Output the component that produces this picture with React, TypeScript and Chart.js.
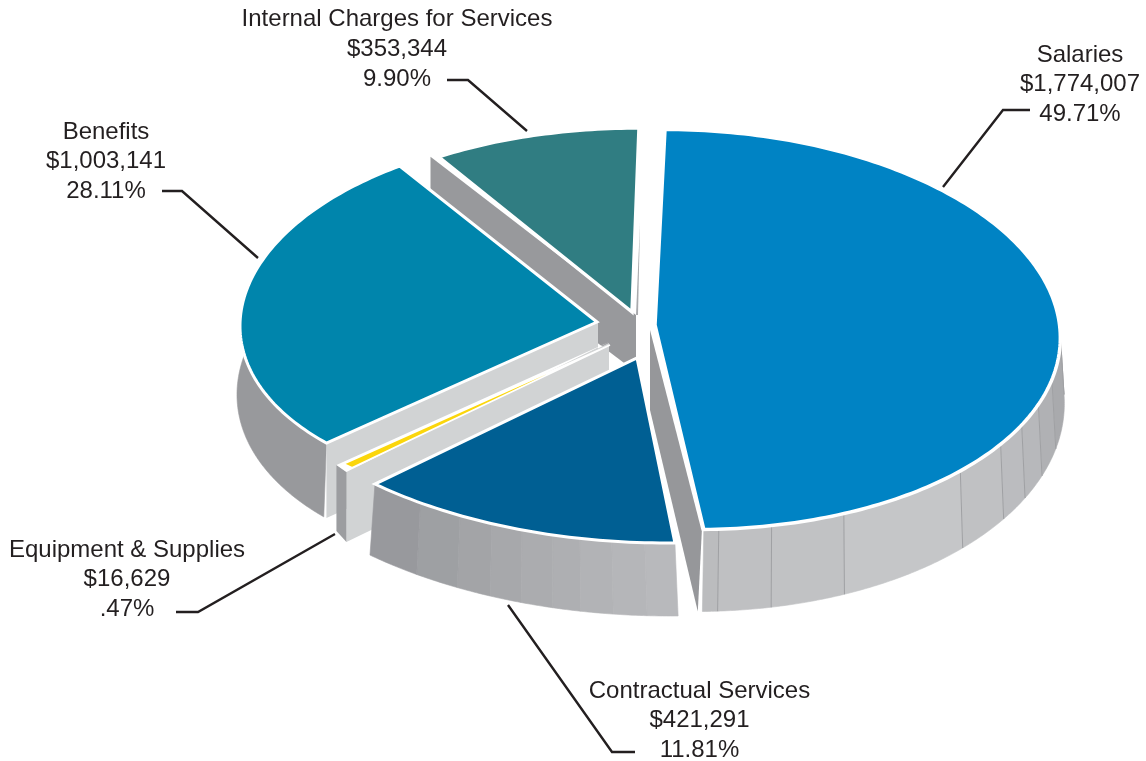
import React, { useEffect, useRef } from "react";
import { Chart, registerables } from "chart.js";

Chart.register(...registerables);

// Budget figures, clockwise from twelve o'clock.
const categories = [
  "Salaries",
  "Contractual Services",
  "Equipment & Supplies",
  "Benefits",
  "Internal Charges for Services",
];
const amounts = [1774007, 421291, 16629, 1003141, 353344];
const percentages = [49.71, 11.81, 0.47, 28.11, 9.9];

const topColors = ["#0083c4", "#005f93", "#fbd60c", "#0085ac", "#307d82"];

const WIDTH = 1146;
const HEIGHT = 761;
const DEG = Math.PI / 180;

type Anchor = "hub" | "start" | "end";
type Face = { color: string; pts: [Anchor, number, number][] };
type Band = { to: number; color: string };

type SliceStyle = {
  hub: [number, number];
  center: [number, number];
  rx: number;
  ry: number;
  shear: number;
  border: number;
  rimFrom?: number;
  rimTo?: number;
  bands?: Band[];
  hairlines?: boolean;
  depth?: [number, number];
  wallDx?: [number, number];
  faces?: Face[];
};

// Each wedge sits on its own tilted ellipse so the exploded disc reads as 3D.
const sliceStyles: SliceStyle[] = [
  {
    hub: [655, 325],
    center: [681, 329.5],
    rx: 379,
    ry: 200,
    shear: 0.08,
    border: 3.5,
    rimFrom: 78,
    bands: [
      { to: 90, color: "#a0a1a4" },
      { to: 104.5, color: "#a9aaad" },
      { to: 112, color: "#b0b1b4" },
      { to: 118.5, color: "#b7b8bb" },
      { to: 125, color: "#bbbcbf" },
      { to: 135, color: "#c0c1c3" },
      { to: 157, color: "#c5c6c8" },
      { to: 168.6, color: "#c1c2c4" },
      { to: 176.7, color: "#bfc0c2" },
      { to: 181, color: "#bbbcbe" },
    ],
    hairlines: true,
    depth: [65, 17],
    wallDx: [-1.5, 5.5],
    faces: [
      {
        color: "#96979a",
        pts: [
          ["end", -2, 2],
          ["hub", -5, 5],
          ["hub", -5, 85],
          ["end", -6, 82],
        ],
      },
    ],
  },
  {
    hub: [637, 358],
    center: [667, 308],
    rx: 441,
    ry: 235,
    shear: 0,
    border: 3,
    bands: [
      { to: 182.9, color: "#b8b9bc" },
      { to: 187.2, color: "#b5b6b9" },
      { to: 191.4, color: "#b2b3b6" },
      { to: 195, color: "#aeafb2" },
      { to: 199.2, color: "#abacaf" },
      { to: 203.4, color: "#a7a8ab" },
      { to: 208, color: "#a3a4a7" },
      { to: 214, color: "#9ea0a3" },
      { to: 224, color: "#98999d" },
    ],
    depth: [65, 8],
    wallDx: [3, 12],
  },
  {
    hub: [610, 345],
    center: [617, 318],
    rx: 400,
    ry: 200,
    shear: 0,
    border: 1.8,
    faces: [
      {
        color: "#d1d3d4",
        pts: [
          ["end", 3, 8],
          ["hub", -1, -2],
          ["hub", -1, 70],
          ["end", 3, 78],
        ],
      },
      {
        color: "#9c9da0",
        pts: [
          ["end", -7, 1],
          ["end", 3, 8],
          ["end", 3, 78],
          ["end", -7, 67],
        ],
      },
      {
        color: "#ffffff",
        pts: [
          ["end", -7, 1],
          ["hub", -1, -3],
          ["end", 3, 8],
        ],
      },
    ],
  },
  {
    hub: [597, 322],
    center: [571, 312],
    rx: 330,
    ry: 179.6,
    shear: -0.144,
    border: 3,
    rimFrom: 223,
    rimTo: 282,
    bands: [{ to: 282, color: "#98999c" }],
    depth: [68, 8],
    wallDx: [-2, 1],
    faces: [
      {
        color: "#d1d3d4",
        pts: [
          ["start", 0, 1],
          ["hub", 1, 0],
          ["hub", 1, 74],
          ["start", 0, 75],
        ],
      },
    ],
  },
  {
    hub: [632, 312],
    center: [639, 282],
    rx: 344,
    ry: 154,
    shear: 0,
    border: 3.5,
    faces: [
      {
        color: "#98999c",
        pts: [
          ["start", -8, 0],
          ["hub", 4, 3],
          ["hub", 4, 60],
          ["start", -8, 60],
        ],
      },
      {
        color: "#a9aaad",
        pts: [
          ["end", 1, 95],
          ["hub", 4, 3],
          ["hub", 6, 3],
        ],
      },
    ],
  },
];

// Painter's order: farthest wedge first.
const paintOrder = [4, 0, 3, 2, 1];

const labelCenters: [number, number][] = [
  [1080, 55],
  [699.5, 691],
  [127, 550],
  [106, 132],
  [397, 19.5],
];
const LINE_STEP = 29.8;

const leaders: [number, number][][] = [
  [[1030, 110], [1003, 110], [943, 187]],
  [[635, 752], [612, 752], [508, 605]],
  [[176, 612], [198, 612], [335, 534]],
  [[162, 191], [182, 191], [258, 258]],
  [[447, 80], [468, 80], [527, 131]],
];

const rimPoint = (s: SliceStyle, a: number): [number, number] => {
  const yy = s.ry * Math.sin(a);
  return [s.center[0] + s.rx * Math.cos(a) + s.shear * yy, s.center[1] + yy];
};

const wallPoint = (s: SliceStyle, a: number): [number, number] => {
  const [x, y] = rimPoint(s, a);
  const [d0, d1] = s.depth ?? [70, 0];
  const [dx0, dx1] = s.wallDx ?? [0, 0];
  return [x + dx0 + dx1 * Math.cos(a), y + d0 + d1 * Math.sin(a)];
};

const tracePoly = (ctx: CanvasRenderingContext2D, pts: [number, number][]) => {
  ctx.beginPath();
  pts.forEach(([x, y], i) => (i ? ctx.lineTo(x, y) : ctx.moveTo(x, y)));
  ctx.closePath();
};

const moneyText = (v: number) => "$" + v.toLocaleString("en-US");
const percentText = (v: number) => v.toFixed(2).replace(/^0/, "") + "%";

const drawRimWall = (
  ctx: CanvasRenderingContext2D,
  s: SliceStyle,
  startA: number,
  endA: number
) => {
  if (!s.bands) return;
  const toAngle = (deg: number) => deg * DEG - Math.PI / 2;
  let from = Math.max(startA, s.rimFrom !== undefined ? toAngle(s.rimFrom) : startA);
  const last = s.rimTo !== undefined ? Math.min(endA, toAngle(s.rimTo)) : endA;
  const seams: number[] = [];
  for (const band of s.bands) {
    const to = Math.min(toAngle(band.to), last);
    if (to <= from) continue;
    const top: [number, number][] = [];
    const bottom: [number, number][] = [];
    const steps = Math.max(2, Math.ceil(((to - from) / DEG) * 2));
    for (let k = 0; k <= steps; k++) {
      const a = from + ((to - from) * k) / steps;
      top.push(rimPoint(s, a));
      bottom.unshift(wallPoint(s, a));
    }
    tracePoly(ctx, [...top, ...bottom]);
    ctx.fillStyle = band.color;
    ctx.strokeStyle = band.color;
    ctx.lineWidth = 0.6;
    ctx.fill();
    ctx.stroke();
    if (to < last) seams.push(to);
    from = to;
  }
  if (s.hairlines) {
    ctx.strokeStyle = "#9fa0a3";
    ctx.lineWidth = 1;
    for (const a of seams) {
      const p = rimPoint(s, a);
      const q = wallPoint(s, a);
      ctx.beginPath();
      ctx.moveTo(p[0], p[1]);
      ctx.lineTo(q[0], q[1]);
      ctx.stroke();
    }
  }
};

// Extrudes and paints every wedge from the angles the pie controller computed.
const extrudedPie = {
  id: "extrudedPie",
  beforeDatasetDraw(chart: Chart) {
    const ctx = chart.ctx;
    const arcs = chart.getDatasetMeta(0).data as any[];
    ctx.save();
    ctx.lineJoin = "miter";
    ctx.miterLimit = 6;
    for (const i of paintOrder) {
      const s = sliceStyles[i];
      const { startAngle, endAngle } = arcs[i].getProps(["startAngle", "endAngle"], true);
      const anchors: Record<Anchor, [number, number]> = {
        hub: s.hub,
        start: rimPoint(s, startAngle),
        end: rimPoint(s, endAngle),
      };
      drawRimWall(ctx, s, startAngle, endAngle);
      for (const face of s.faces ?? []) {
        const pts = face.pts.map(
          ([name, dx, dy]) => [anchors[name][0] + dx, anchors[name][1] + dy] as [number, number]
        );
        tracePoly(ctx, pts);
        ctx.fillStyle = face.color;
        ctx.fill();
      }
      const top: [number, number][] = [s.hub];
      const steps = Math.max(2, Math.ceil((endAngle - startAngle) / DEG));
      for (let k = 0; k <= steps; k++) {
        top.push(rimPoint(s, startAngle + ((endAngle - startAngle) * k) / steps));
      }
      tracePoly(ctx, top);
      ctx.fillStyle = topColors[i];
      ctx.fill();
      ctx.strokeStyle = "#ffffff";
      ctx.lineWidth = s.border;
      ctx.stroke();
    }
    ctx.restore();
    return false;
  },
  afterDatasetsDraw(chart: Chart) {
    const ctx = chart.ctx;
    ctx.save();
    ctx.strokeStyle = "#231f20";
    ctx.lineWidth = 2.4;
    ctx.lineJoin = "miter";
    for (const line of leaders) {
      ctx.beginPath();
      line.forEach(([x, y], i) => (i ? ctx.lineTo(x, y) : ctx.moveTo(x, y)));
      ctx.stroke();
    }
    ctx.fillStyle = "#231f20";
    ctx.font = '24px "Liberation Sans", Arial, sans-serif';
    ctx.textAlign = "center";
    ctx.textBaseline = "middle";
    categories.forEach((name, i) => {
      const [x, y] = labelCenters[i];
      ctx.fillText(name, x, y);
      ctx.fillText(moneyText(amounts[i]), x, y + LINE_STEP);
      ctx.fillText(percentText(percentages[i]), x, y + LINE_STEP * 2);
    });
    ctx.restore();
  },
};

export default function App() {
  const canvasRef = useRef<HTMLCanvasElement | null>(null);

  useEffect(() => {
    document.body.style.margin = "0";
    document.body.style.background = "#ffffff";
    const canvas = canvasRef.current;
    if (!canvas) return;
    const chart = new Chart(canvas, {
      type: "pie",
      data: {
        labels: categories,
        datasets: [{ data: amounts, backgroundColor: topColors, borderWidth: 0 }],
      },
      options: {
        responsive: false,
        animation: false,
        rotation: 0,
        layout: { padding: 0 },
        plugins: { legend: { display: false }, tooltip: { enabled: false } },
      },
      plugins: [extrudedPie as any],
    });
    return () => chart.destroy();
  }, []);

  return (
    <canvas
      ref={canvasRef}
      width={WIDTH}
      height={HEIGHT}
      style={{ display: "block", width: WIDTH, height: HEIGHT }}
    />
  );
}
